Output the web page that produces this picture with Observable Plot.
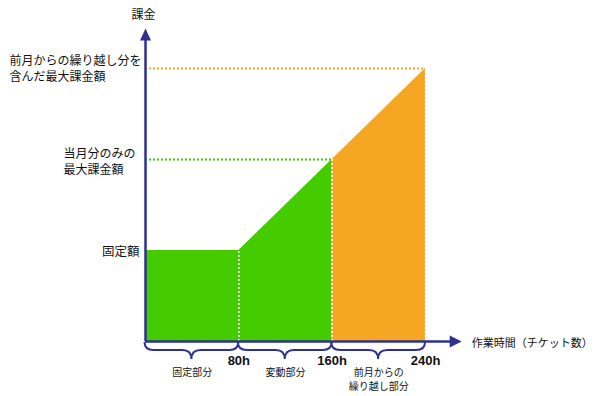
<!DOCTYPE html>
<html>
<head>
<meta charset="utf-8">
<script src="https://cdn.jsdelivr.net/npm/d3@7"></script>
<script src="https://cdn.jsdelivr.net/npm/@observablehq/plot@0.6"></script>
<style>
  body { margin: 0; background: #fff; }
  g[aria-label="x-title"] text { font-feature-settings: "palt"; }
</style>
</head>
<body>
<div id="chart"></div>
<script>
// 作業時間（h）ごとの課金額（固定額 = 1 とした相対値）
const hours = [0, 80, 160, 240];
const charge = [1, 1, 2, 3];
const tickHours = [80, 160, 240];

// 横軸の区間
const partNames = ["固定部分", "変動部分", "前月からの\n繰り越し部分"];
const partStart = [0, 80, 160];
const partEnd = [80, 160, 240];

// 縦軸の目盛り文言
const levelNames = ["固定額", "当月分のみの\n最大課金額", "前月からの繰り越し分を\n含んだ最大課金額"];
const levelValues = [1, 2, 3];

const yAxisTitle = "課金";
const xAxisTitle = "作業時間（チケット数）";

// 軸の矢印の先端（データ座標）
const xTip = 271;
const yTip = 3.44;

const GREEN = "#44cc00";
const ORANGE = "#f5a623";
const BLUE = "#2e3192";
const JP = "'Noto Sans CJK JP', sans-serif";

const points = hours.map((h, i) => ({h, c: charge[i]}));
const currentMonth = points.filter(d => d.h <= partEnd[1]);
const carryOver = points.filter(d => d.h >= partStart[2]);
const guides = points.slice(2).map((d, i) => ({...d, color: i === 0 ? GREEN : ORANGE}));

// 塗りつぶした三角の矢じり
const arrowUp = {draw(ctx) { ctx.moveTo(0, 0); ctx.lineTo(5.5, 12); ctx.lineTo(-5.5, 12); ctx.closePath(); }};
const arrowRight = {draw(ctx) { ctx.moveTo(0, 0); ctx.lineTo(-12, -6); ctx.lineTo(-12, 6); ctx.closePath(); }};

// 区間の下に付ける波括弧
function braces(index, scales) {
  const sx = typeof scales.x === "function" ? scales.x : scales.scales.x.apply;
  const sy = typeof scales.y === "function" ? scales.y : scales.scales.y.apply;
  const g = d3.create("svg:g").attr("fill", "none").attr("stroke", BLUE).attr("stroke-width", 2);
  const yb = sy(0) + 1, lv = yb + 8, tip = yb + 17, r = 9;
  partStart.forEach((s, i) => {
    const x0 = sx(s) - 0.5, x1 = sx(partEnd[i]), xm = (x0 + x1) / 2;
    g.append("path").attr("d",
      `M${x0},${yb} Q${x0},${lv} ${x0 + r},${lv} L${xm - r},${lv} Q${xm},${lv} ${xm},${tip}` +
      ` Q${xm},${lv} ${xm + r},${lv} L${x1 - r},${lv} Q${x1},${lv} ${x1},${yb}`);
  });
  return g.node();
}

const chart = Plot.plot({
  width: 600,
  height: 396,
  marginLeft: 145,
  marginRight: 175,
  marginTop: 68,
  marginBottom: 55,
  x: {domain: [0, 240], axis: null},
  y: {domain: [0, 3], axis: null},
  style: {background: "#fff", fontFamily: JP, color: "#111"},
  marks: [
    Plot.areaY(currentMonth, {x: "h", y: "c", fill: GREEN}),
    Plot.areaY(carryOver, {x: "h", y: "c", fill: ORANGE}),
    Plot.ruleX(points.slice(1), {x: "h", y1: () => 0, y2: "c", stroke: "#fff", strokeWidth: 1.5, strokeDasharray: "2,2"}),
    Plot.ruleY(guides, {y: "c", x1: () => 0, x2: "h", stroke: "color", strokeWidth: 2, strokeDasharray: "2,2"}),
    Plot.ruleX([0], {y1: () => 0, y2: () => yTip - 0.06, stroke: BLUE, strokeWidth: 2.5}),
    Plot.ruleY([0], {x1: () => 0, x2: () => xTip - 5, stroke: BLUE, strokeWidth: 2.5}),
    Plot.dot([{x: 0, y: yTip}], {x: "x", y: "y", symbol: arrowUp, fill: BLUE, stroke: "none"}),
    Plot.dot([{x: xTip, y: 0}], {x: "x", y: "y", symbol: arrowRight, fill: BLUE, stroke: "none"}),
    braces,
    Plot.text(tickHours, {x: d => d, y: () => 0, text: d => `${d}h`, dy: 19, fontSize: 13, fontWeight: "bold", fontFamily: "'Liberation Sans', Arial, sans-serif", fill: "#111"}),
    Plot.text(partNames, {x: (d, i) => (partStart[i] + partEnd[i]) / 2, y: () => 0, text: d => d, lineAnchor: "top", dy: 24.5, fontSize: 10, lineHeight: 1.4, fill: "#111"}),
    Plot.text([levelNames[0]], {x: () => 0, y: () => levelValues[0], text: d => d, textAnchor: "end", dx: -6, dy: 1.5, fontSize: 12.5, fill: "#111"}),
    Plot.text([levelNames[1]], {x: () => 0, y: () => levelValues[1], text: d => d, textAnchor: "start", dx: -82, dy: 1.5, fontSize: 12, lineHeight: 1.3, fill: "#111"}),
    Plot.text([levelNames[2]], {x: () => 0, y: () => levelValues[2], text: d => d, textAnchor: "start", dx: -136, dy: -0.5, fontSize: 12, lineHeight: 1.3, fill: "#111"}),
    Plot.text([yAxisTitle], {x: () => 0, y: () => yTip, text: d => d, dx: -2, dy: -13, fontSize: 12, fill: "#111"}),
    Plot.text([xAxisTitle], {x: () => xTip, y: () => 0, text: d => d, textAnchor: "start", dx: 10, dy: 2, fontSize: 11, fill: "#111", ariaLabel: "x-title"})
  ]
});

document.getElementById("chart").append(chart);
</script>
</body>
</html>
